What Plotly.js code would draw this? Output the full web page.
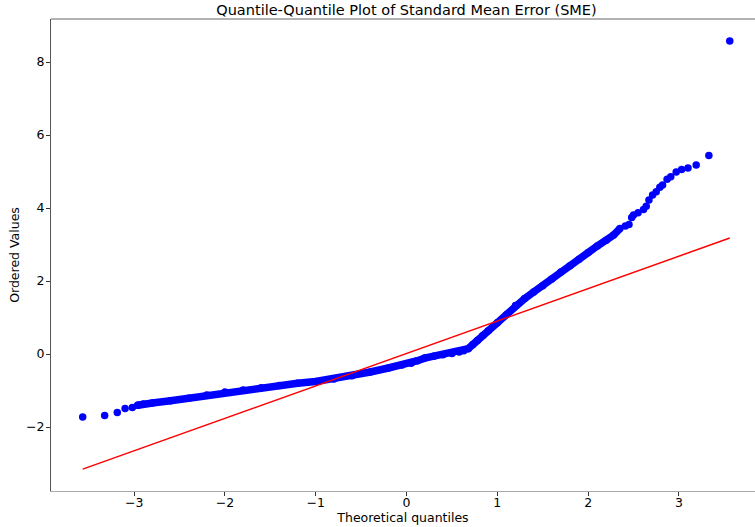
<!DOCTYPE html>
<html>
<head>
<meta charset="utf-8">
<script src="https://cdn.plot.ly/plotly-3.0.1.min.js"></script>
<style>html,body{margin:0;padding:0;background:#fff;}#chart{width:755px;height:527px;}</style>
</head>
<body>
<div id="chart"></div>
<script>
// Sparse left-tail sample points (theoretical quantile, ordered value)
const tailLowX = [-3.567, -3.325, -3.186, -3.10, -3.02, -2.96];
const tailLowY = [-1.72, -1.68, -1.60, -1.49, -1.46, -1.40];

// Dense central band
const bandX = [-2.96, -2.9, -2.8, -2.6, -2.4, -2.2, -2.0, -1.8, -1.6, -1.4, -1.2, -1.0, -0.8, -0.6, -0.4, -0.2, -0.05, 0.05, 0.12, 0.2, 0.3, 0.4, 0.5, 0.58, 0.63, 0.68, 0.73, 0.78, 0.84, 0.9, 1.0, 1.1, 1.2, 1.3, 1.4, 1.5, 1.6, 1.7, 1.8, 1.9, 2.0, 2.1, 2.2, 2.28, 2.35];
const bandY = [-1.40, -1.37, -1.34, -1.28, -1.21, -1.12, -1.04, -0.98, -0.92, -0.86, -0.80, -0.75, -0.68, -0.59, -0.49, -0.38, -0.30, -0.25, -0.18, -0.11, -0.06, -0.02, 0.02, 0.06, 0.09, 0.15, 0.26, 0.37, 0.51, 0.64, 0.86, 1.08, 1.33, 1.52, 1.70, 1.87, 2.06, 2.25, 2.42, 2.60, 2.78, 2.96, 3.12, 3.26, 3.44];

// Sparse right-tail sample points
const tailHighX = [2.41, 2.45, 2.48, 2.50, 2.55, 2.61, 2.64, 2.67, 2.71, 2.75, 2.79, 2.82, 2.87, 2.91, 2.97, 3.03, 3.10, 3.19, 3.33, 3.56];
const tailHighY = [3.51, 3.55, 3.74, 3.81, 3.87, 3.96, 4.05, 4.22, 4.36, 4.45, 4.57, 4.63, 4.79, 4.86, 4.99, 5.06, 5.10, 5.18, 5.44, 8.58];

// Least-squares reference line end points
const fitX = [-3.567, 3.56];
const fitY = [-3.15, 3.18];

const blue = '#0000ff';
const traces = [
  {x: bandX, y: bandY, type: 'scatter', mode: 'lines+markers',
   line: {color: blue, width: 7.5}, marker: {color: blue, size: 7.5}},
  {x: tailLowX, y: tailLowY, type: 'scatter', mode: 'markers', marker: {color: blue, size: 7.5}},
  {x: tailHighX, y: tailHighY, type: 'scatter', mode: 'markers', marker: {color: blue, size: 7.5}},
  {x: fitX, y: fitY, type: 'scatter', mode: 'lines', line: {color: '#ff0000', width: 1.5}}
];

const tickFont = {family: 'DejaVu Sans', size: 12.5, color: '#000'};
const labelFont = {family: 'DejaVu Sans', size: 12.5, color: '#000'};
const layout = {
  width: 755, height: 527,
  margin: {l: 51, r: 0, t: 19, b: 36, pad: 0},
  paper_bgcolor: '#fff', plot_bgcolor: '#fff',
  showlegend: false,
  title: {text: 'Quantile-Quantile Plot of Standard Mean Error (SME)',
    font: {family: 'DejaVu Sans', size: 14.5, color: '#000'},
    xref: 'container', x: 0.5384, xanchor: 'center',
    yref: 'container', y: 0.981, yanchor: 'middle'},
  xaxis: {range: [-3.916, 3.838], tickvals: [-3, -2, -1, 0, 1, 2, 3],
    showgrid: false, zeroline: false, showline: true, linecolor: '#aaaaaa', linewidth: 1,
    ticks: 'outside', ticklen: 4, tickcolor: '#333', tickwidth: 1,
    ticklabelstandoff: -4,
    tickfont: tickFont,
    title: {text: 'Theoretical quantiles', font: labelFont, standoff: 0}},
  yaxis: {range: [-3.75, 9.18], tickvals: [-2, 0, 2, 4, 6, 8],
    showgrid: false, zeroline: false, showline: true, linecolor: '#555555', linewidth: 1,
    ticks: 'outside', ticklen: 4, tickcolor: '#333', tickwidth: 1,
    ticklabelstandoff: -1,
    tickfont: tickFont,
    title: {text: 'Ordered Values', font: labelFont, standoff: 3}},
  shapes: [{type: 'line', xref: 'paper', yref: 'paper', x0: 0, x1: 1, y0: 1, y1: 1,
    line: {color: '#666666', width: 1}}]
};

Plotly.newPlot('chart', traces, layout, {staticPlot: true, displayModeBar: false});
</script>
</body>
</html>
